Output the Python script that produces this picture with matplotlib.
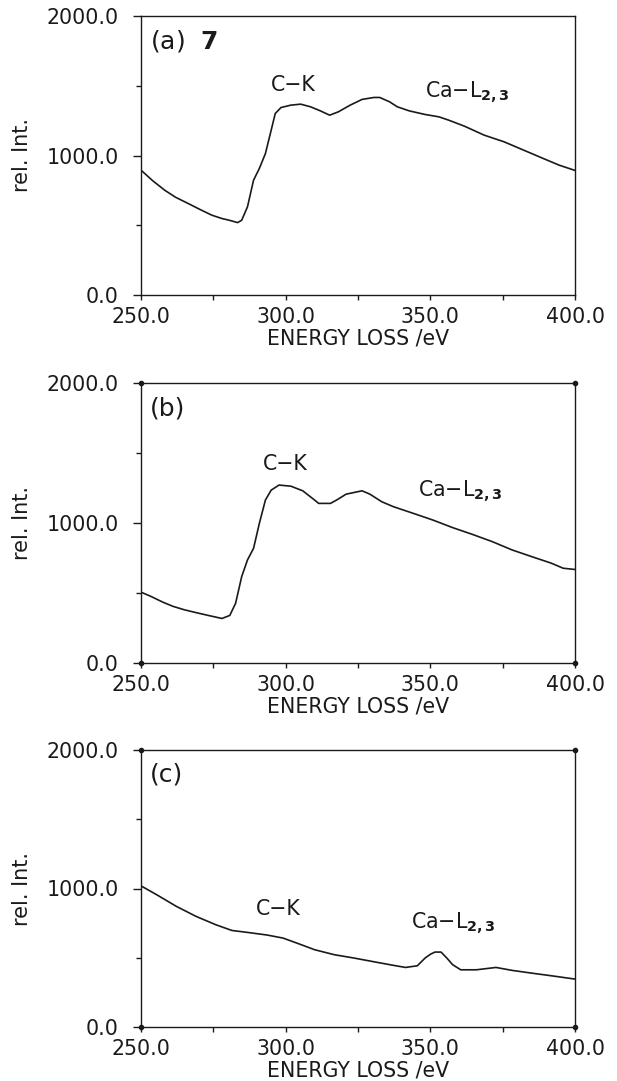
import matplotlib
matplotlib.use("Agg")
import matplotlib.pyplot as plt
from matplotlib.ticker import MultipleLocator, FormatStrFormatter

# ---------------- data ----------------
energy_a = [250.0, 254.0, 258.2, 262.0, 266.4, 270.5, 274.5, 278.0, 280.5, 283.4,
            284.8, 286.8, 288.9, 290.9, 293.0, 295.0, 296.4, 298.4, 301.8, 305.2,
            308.6, 312.0, 315.2, 318.2, 322.3, 326.4, 330.5, 332.5, 335.9, 338.6,
            342.7, 348.2, 353.0, 356.4, 361.8, 368.6, 375.5, 382.3, 389.1, 394.5, 400.0]
intens_a = [895, 820, 751, 700, 655, 612, 572, 548, 536, 519,
            536, 632, 823, 907, 1014, 1182, 1301, 1344, 1361, 1368,
            1349, 1320, 1289, 1313, 1361, 1402, 1416, 1416, 1385, 1349,
            1320, 1294, 1277, 1253, 1210, 1146, 1098, 1038, 978, 931, 893]

energy_b = [250.0, 253.5, 257.5, 261.0, 265.0, 269.0, 273.2, 278.0, 280.7, 282.7,
            284.8, 286.8, 288.9, 290.9, 293.0, 295.0, 297.7, 301.8, 305.9, 310.0,
            311.4, 315.5, 317.6, 320.9, 326.4, 329.1, 333.2, 337.3, 344.1, 350.9,
            357.7, 364.5, 371.4, 378.2, 385.0, 391.8, 395.9, 400.0]
intens_b = [506, 475, 435, 405, 380, 360, 340, 318, 340, 427,
            617, 736, 819, 997, 1164, 1235, 1271, 1263, 1230, 1164,
            1140, 1140, 1164, 1206, 1230, 1206, 1152, 1116, 1069, 1021,
            967, 919, 867, 808, 760, 713, 677, 668]

energy_c = [250.0, 255.5, 262.3, 269.1, 275.9, 281.4, 286.8, 293.6, 299.1, 304.5,
            310.0, 316.8, 323.6, 330.5, 337.3, 341.4, 345.5, 348.2, 350.0, 351.6,
            353.7, 355.7, 357.7, 360.5, 365.9, 372.7, 378.2, 385.0, 391.8, 400.0]
intens_c = [1019, 954, 870, 798, 738, 697, 683, 664, 642, 601,
            558, 522, 498, 471, 445, 430, 442, 498, 525, 541,
            541, 498, 450, 413, 413, 430, 409, 389, 370, 346]

panel_tags = [r"(a)  $\mathbf{7}$", "(b)", "(c)"]
ck_pos = [(302.5, 1505), (300.0, 1420), (297.3, 851)]
ca_pos = [(348.2, 1450), (345.9, 1230), (343.4, 750)]
xticks_major = [250.0, 300.0, 350.0, 400.0]
yticks_major = [0.0, 1000.0, 2000.0]

# ---------------- figure ----------------
plt.rcParams['font.family'] = ['DejaVu Sans']
plt.rcParams['mathtext.fontset'] = 'dejavusans'

fig = plt.figure(figsize=(6.17, 10.81), dpi=100)
left, width = 141 / 617, 434 / 617
rects = [(left, 786 / 1081, width, 279 / 1081),
         (left, 418 / 1081, width, 280 / 1081),
         (left, 54 / 1081, width, 277 / 1081)]

series = [(energy_a, intens_a), (energy_b, intens_b), (energy_c, intens_c)]
ink = '#1a1a1a'
fs = 14.8

for i, (rect, (ex, iy)) in enumerate(zip(rects, series)):
    ax = fig.add_axes(rect)
    ax.plot(ex, iy, color=ink, lw=1.2)
    ax.set_xlim(250, 400)
    ax.set_ylim(0, 2000)
    ax.set_xticks(xticks_major)
    ax.set_yticks(yticks_major)
    ax.xaxis.set_minor_locator(MultipleLocator(25))
    ax.yaxis.set_minor_locator(MultipleLocator(500))
    ax.xaxis.set_major_formatter(FormatStrFormatter('%.1f'))
    ax.yaxis.set_major_formatter(FormatStrFormatter('%.1f'))
    for s in ax.spines.values():
        s.set_linewidth(1.0)
        s.set_color(ink)
    ax.tick_params(axis='x', which='major', direction='out', length=3.5, width=1.0,
                   pad=5.0, labelsize=fs, colors=ink)
    ax.tick_params(axis='x', which='minor', direction='out', length=3.5, width=1.0, colors=ink)
    ax.tick_params(axis='y', which='major', direction='out', length=5.5, width=1.0,
                   pad=10.5, labelsize=fs, colors=ink)
    ax.tick_params(axis='y', which='minor', direction='out', length=3.5, width=1.0, colors=ink)
    ax.set_xlabel("ENERGY LOSS /eV", fontsize=fs, labelpad=1.5, color=ink)
    ax.set_ylabel("rel. Int.", fontsize=15, color=ink)
    ax.yaxis.set_label_coords(-0.252, 0.5)

    ax.text(0.02, 0.91, panel_tags[i], transform=ax.transAxes, fontsize=18,
            ha='left', va='center', color=ink)
    ax.text(ck_pos[i][0], ck_pos[i][1], "C\u2212K", fontsize=fs, ha='center',
            va='center', color=ink)
    ax.text(ca_pos[i][0], ca_pos[i][1], r"Ca$-$L$_{\mathbf{2,3}}$", fontsize=fs,
            ha='left', va='center', color=ink)

    if i > 0:
        x0, x1 = ax.get_xlim()
        y0, y1 = ax.get_ylim()
        ax.plot([x0, x1, x0, x1], [y0, y0, y1, y1], 'o', ms=3, color=ink, clip_on=False)

fig.savefig("out.png", dpi=100, facecolor='white')
